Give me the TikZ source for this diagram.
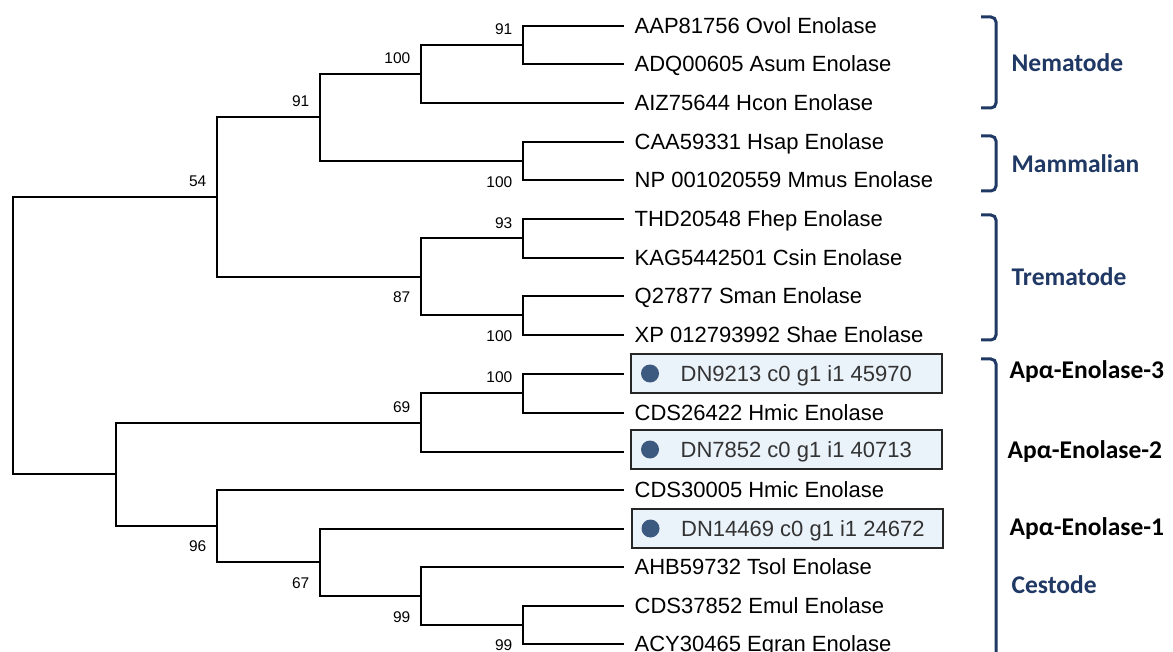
\documentclass[tikz,border=0pt]{standalone}
\usepackage{fontspec}
\setmainfont{Liberation Sans}
\newfontfamily\grpfont{Carlito}
\usetikzlibrary{positioning}

\definecolor{navy}{HTML}{1F3864}
\definecolor{hitfill}{HTML}{EAF2FA}
\definecolor{dotblue}{HTML}{3C5A80}

\begin{document}
\begin{tikzpicture}[x=1pt, y=-1pt, line width=1.3pt]
  \tikzstyle{leaf} = [anchor=west, inner xsep=10pt, inner ysep=0pt, text height=20.8pt,
                      text depth=5pt, font=\fontsize{22}{26}\selectfont]
  \tikzstyle{bs}   = [inner sep=0pt, text height=11pt, text depth=0pt,
                      font=\fontsize{15.5}{18}\selectfont]
  \tikzstyle{hit}  = [draw=black!85, line width=2pt, fill=hitfill, minimum width=311pt,
                      minimum height=39pt, inner sep=0pt]
  \tikzstyle{dot}  = [circle, fill=dotblue, minimum size=18pt, inner sep=0pt]
  \tikzstyle{hittxt} = [anchor=west, inner sep=0pt, text=black!80, text height=15.8pt,
                        text depth=0pt, font=\fontsize{22}{26}\selectfont]
  \tikzstyle{grp}  = [anchor=west, inner sep=0pt, text height=16.4pt, text depth=0pt,
                      font=\grpfont\bfseries\fontsize{25.5}{30}\selectfont]
  \tikzstyle{brk}  = [draw=navy, line width=3pt, rounded corners=5pt]

  \useasboundingbox (0,0) rectangle (1173,652);

  % inner nodes of the tree
  \coordinate (root) at (13,335);
  \coordinate (n8)  at (217,197);
  \coordinate (n4)  at (320,117);
  \coordinate (n2)  at (421,74);
  \coordinate (n1)  at (523,45);
  \coordinate (n3)  at (523,161);
  \coordinate (n7)  at (421,277);
  \coordinate (n5)  at (523,238);
  \coordinate (n6)  at (523,315);
  \coordinate (n15) at (116,474);
  \coordinate (n10) at (421,423);
  \coordinate (n9)  at (523,393);
  \coordinate (n14) at (217,526);
  \coordinate (n13) at (320,562);
  \coordinate (n12) at (421,596);
  \coordinate (n11) at (523,625);

  % leaves
  \node[leaf] (l1)  at (624,26)  {AAP81756 Ovol Enolase};
  \node[leaf] (l2)  at (624,64)  {ADQ00605 Asum Enolase};
  \node[leaf] (l3)  at (624,103) {AIZ75644 Hcon Enolase};
  \node[leaf] (l4)  at (624,142) {CAA59331 Hsap Enolase};
  \node[leaf] (l5)  at (624,180) {NP 001020559 Mmus Enolase};
  \node[leaf] (l6)  at (624,219) {THD20548 Fhep Enolase};
  \node[leaf] (l7)  at (624,258) {KAG5442501 Csin Enolase};
  \node[leaf] (l8)  at (624,296) {Q27877 Sman Enolase};
  \node[leaf] (l9)  at (624,335) {XP 012793992 Shae Enolase};
  \coordinate (l10) at (624,374);
  \node[leaf] (l11) at (624,413) {CDS26422 Hmic Enolase};
  \coordinate (l12) at (624,452);
  \node[leaf] (l13) at (624,490) {CDS30005 Hmic Enolase};
  \coordinate (l14) at (624,529);
  \node[leaf] (l15) at (624,567) {AHB59732 Tsol Enolase};
  \node[leaf] (l16) at (624,606) {CDS37852 Emul Enolase};
  \node[leaf] (l17) at (624,644) {ACY30465 Egran Enolase};

  % the three Apa transcripts
  \node[hit] (h1) at (786.5,373.5) {};
  \node[hit] (h2) at (786.5,449.5) {};
  \node[hit] (h3) at (787,528.5) {};
  \node[dot] (d1) at ([xshift=20pt]h1.west) {};
  \node[dot] (d2) at ([xshift=20pt]h2.west) {};
  \node[dot] (d3) at ([xshift=20pt]h3.west) {};
  \node[hittxt] (x1) at ([xshift=50pt]h1.west) {DN9213 c0 g1 i1 45970};
  \node[hittxt] (x2) at ([xshift=50pt]h2.west) {DN7852 c0 g1 i1 40713};
  \node[hittxt] (x3) at ([xshift=50pt]h3.west) {DN14469 c0 g1 i1 24672};

  % branches
  \draw (root) |- (n8);
  \draw (root) |- (n15);
  \draw (n8) |- (n4);
  \draw (n8) |- (n7);
  \draw (n4) |- (n2);
  \draw (n4) |- (n3);
  \draw (n2) |- (n1);
  \draw (n2) |- (l3.west);
  \draw (n1) |- (l1.west);
  \draw (n1) |- (l2.west);
  \draw (n3) |- (l4.west);
  \draw (n3) |- (l5.west);
  \draw (n7) |- (n5);
  \draw (n7) |- (n6);
  \draw (n5) |- (l6.west);
  \draw (n5) |- (l7.west);
  \draw (n6) |- (l8.west);
  \draw (n6) |- (l9.west);
  \draw (n15) |- (n10);
  \draw (n15) |- (n14);
  \draw (n10) |- (n9);
  \draw (n10) |- (l12);
  \draw (n9) |- (l10);
  \draw (n9) |- (l11.west);
  \draw (n14) |- (l13.west);
  \draw (n14) |- (n13);
  \draw (n13) |- (l14);
  \draw (n13) |- (n12);
  \draw (n12) |- (l15.west);
  \draw (n12) |- (n11);
  \draw (n11) |- (l16.west);
  \draw (n11) |- (l17.west);

  % bootstrap values
  \node[bs, left=10pt of n1, yshift=16pt]  (b1)  {91};
  \node[bs, left=10pt of n2, yshift=16pt]  (b2)  {100};
  \node[bs, left=10pt of n4, yshift=16pt]  (b4)  {91};
  \node[bs, left=10pt of n8, yshift=16pt]  (b8)  {54};
  \node[bs, left=10pt of n3, yshift=-21pt] (b3)  {100};
  \node[bs, left=10pt of n5, yshift=15pt]  (b5)  {93};
  \node[bs, left=10pt of n7, yshift=-20pt] (b7)  {87};
  \node[bs, left=10pt of n6, yshift=-21pt] (b6)  {100};
  \node[bs, left=10pt of n9, yshift=16pt]  (b9)  {100};
  \node[bs, left=10pt of n10, yshift=16pt] (b10) {69};
  \node[bs, left=10pt of n14, yshift=-20pt] (b14) {96};
  \node[bs, left=10pt of n13, yshift=-21pt] (b13) {67};
  \node[bs, left=10pt of n12, yshift=-21pt] (b12) {99};
  \node[bs, left=10pt of n11, yshift=-20pt] (b11) {99};

  % groups
  \draw[brk] (981,17) -- (996,17) -- (996,108) -- (981,108);
  \draw[brk] (981,136) -- (996,136) -- (996,191) -- (981,191);
  \draw[brk] (981,215) -- (996,215) -- (996,340) -- (981,340);
  \draw[brk] (981,359) -- (996,359) -- (996,690);

  \node[grp, text=navy] (g1) at (1011,63)  {Nematode};
  \node[grp, text=navy] (g2) at (1011,164) {Mammalian};
  \node[grp, text=navy] (g3) at (1011,277) {Trematode};
  \node[grp] (a3) at (1009,370) {Apα-Enolase-3};
  \node[grp] (a2) at (1007,450) {Apα-Enolase-2};
  \node[grp] (a1) at (1009,527) {Apα-Enolase-1};
  \node[grp, text=navy] (g4) at (1011,585) {Cestode};
\end{tikzpicture}
\end{document}
